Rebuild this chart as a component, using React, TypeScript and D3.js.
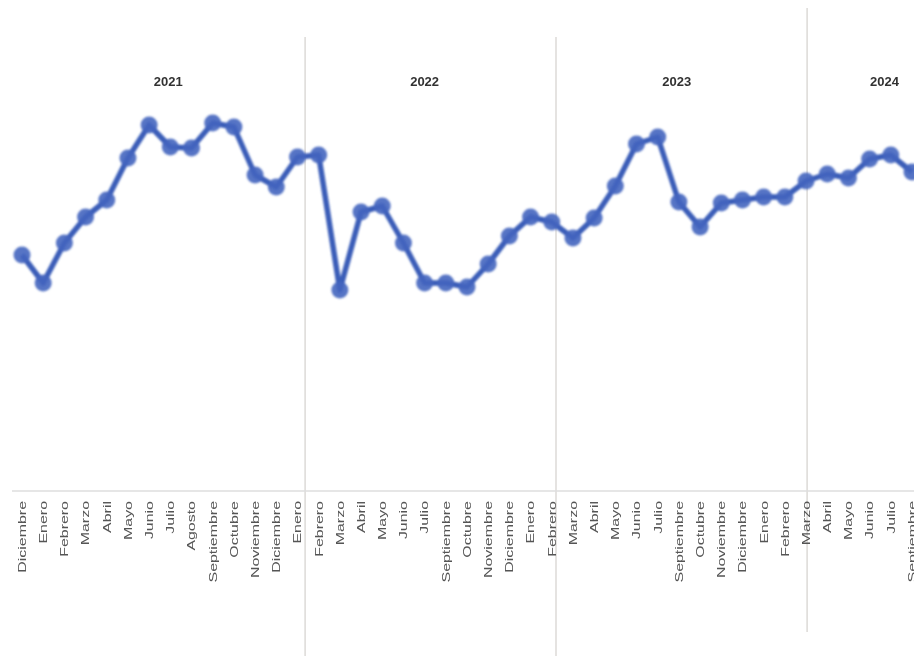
import React, { useRef, useEffect } from 'react';
import * as d3 from 'd3';

// month labels along the bottom, one per point
const months = [
  "Diciembre", "Enero", "Febrero", "Marzo", "Abril", "Mayo", "Junio", "Julio", "Agosto",
  "Septiembre", "Octubre", "Noviembre", "Diciembre", "Enero",
  "Febrero", "Marzo", "Abril", "Mayo", "Junio", "Julio", "Septiembre", "Octubre",
  "Noviembre", "Diciembre", "Enero", "Febrero",
  "Marzo", "Abril", "Mayo", "Junio", "Julio", "Septiembre", "Octubre", "Noviembre",
  "Diciembre", "Enero", "Febrero",
  "Marzo", "Abril", "Mayo", "Junio", "Julio", "Septiembre"
];

// series values (arbitrary units)
const values = [
  23.5, 20.7, 24.7, 27.3, 29.0, 33.2, 36.5, 34.3, 34.2, 36.7, 36.3, 31.5, 30.3, 33.3,
  33.5, 20.0, 27.8, 28.4, 24.7, 20.7, 20.7, 20.3, 22.6, 25.4, 27.3, 26.8,
  25.2, 27.2, 30.4, 34.6, 35.3, 28.8, 26.3, 28.7, 29.0, 29.3, 29.3,
  30.9, 31.6, 31.2, 33.1, 33.5, 31.8
];

// year panes: label position and separator position, in point-index units
const years = ["2021", "2022", "2023", "2024"];
const yearLabelAt = [6.9, 19.0, 30.9, 40.7];
const yearBreaks = [13.36, 25.2, 37.05];

const W = 914;
const H = 656;

const App = () => {
  const ref = useRef<SVGSVGElement | null>(null);

  useEffect(() => {
    document.body.style.margin = "0";
    const svg = d3.select(ref.current);
    svg.selectAll("*").remove();

    const x = d3.scaleLinear().domain([0, values.length - 1]).range([22, 912]);
    const y = d3.scaleLinear().domain([0, 39]).range([490, 100]);

    const defs = svg.append("defs");
    defs.append("filter").attr("id", "soft")
      .append("feGaussianBlur").attr("stdDeviation", 1.1);
    defs.append("filter").attr("id", "softText")
      .append("feGaussianBlur").attr("stdDeviation", 0.35);

    // separators between the year panes
    const sepTop = [37, 37, 8];
    const sepBottom = [656, 656, 632];
    svg.selectAll(".sep")
      .data(yearBreaks)
      .enter().append("line")
      .attr("x1", d => x(d)).attr("x2", d => x(d))
      .attr("y1", (d, i) => sepTop[i]).attr("y2", (d, i) => sepBottom[i])
      .style("stroke", "#dcdad7")
      .style("stroke-width", 1.5);

    // axis baseline
    svg.append("line")
      .attr("x1", 12).attr("x2", W)
      .attr("y1", 491).attr("y2", 491)
      .style("stroke", "#dedede")
      .style("stroke-width", 1.5);

    const txt = svg.append("g").attr("filter", "url(#softText)");

    // year headers
    txt.selectAll(".year")
      .data(years)
      .enter().append("text")
      .attr("x", (d, i) => x(yearLabelAt[i]))
      .attr("y", 86)
      .text(d => d)
      .style("text-anchor", "middle")
      .style("font-family", "Arial, 'Liberation Sans', sans-serif")
      .style("font-size", "13px")
      .style("font-weight", "bold")
      .style("fill", "#333");

    // month labels, rotated and stretched along their length like the source
    txt.selectAll(".month")
      .data(months)
      .enter().append("text")
      .attr("transform", (d, i) => `translate(${x(i)},501) rotate(-90) scale(1.45,1)`)
      .attr("dy", "0.35em")
      .text(d => d)
      .style("text-anchor", "end")
      .style("font-family", "Arial, 'Liberation Sans', sans-serif")
      .style("font-size", "11px")
      .style("fill", "#555");

    const g = svg.append("g").attr("filter", "url(#soft)");

    const line = d3.line<number>()
      .x((d, i) => x(i))
      .y(d => y(d));

    g.append("path")
      .datum(values)
      .attr("d", line)
      .style("fill", "none")
      .style("stroke", "#3a5db8")
      .style("stroke-width", 5.5)
      .style("stroke-linejoin", "round");

    g.selectAll(".dot")
      .data(values)
      .enter().append("circle")
      .attr("cx", (d, i) => x(i))
      .attr("cy", d => y(d))
      .attr("r", 8.5)
      .style("fill", "#4465bf")
      .style("opacity", 0.9);
  }, []);

  return <svg ref={ref} width={W} height={H} style={{ display: "block", background: "#fff" }} />;
};

export default App;
